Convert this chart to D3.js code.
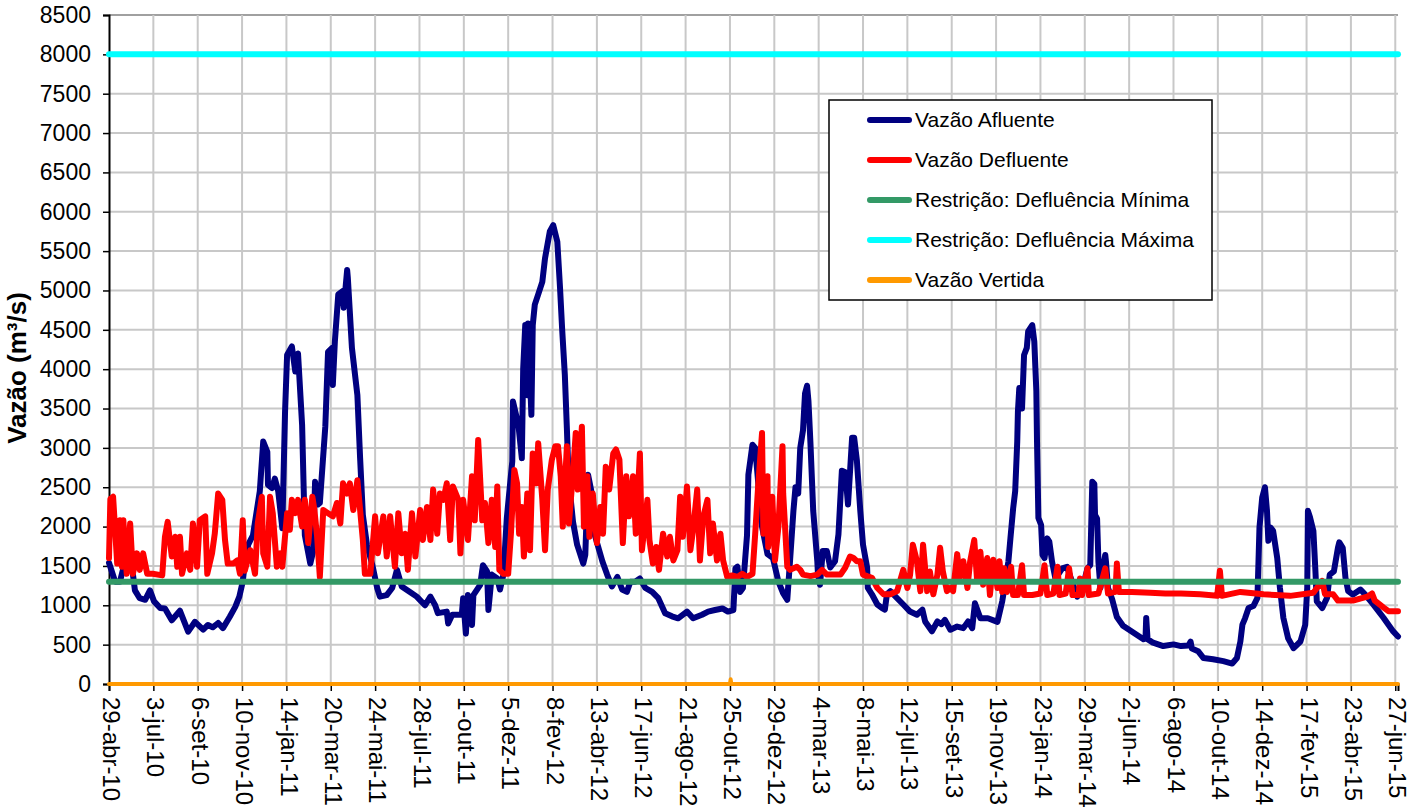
<!DOCTYPE html>
<html>
<head>
<meta charset="utf-8">
<script src="https://cdn.jsdelivr.net/npm/d3@7"></script>
<style>
  body { margin: 0; background: #fff; }
  svg { display: block; font-family: "Liberation Sans", Arial, sans-serif; }
</style>
</head>
<body>
<div id="chart"></div>
<script>
// data: [days since 29-abr-10, m3/s]
var inicio = new Date(2010, 3, 29);
var diaFinal = 1889;

var tickLabels = ["29-abr-10", "3-jul-10", "6-set-10", "10-nov-10", "14-jan-11", "20-mar-11",
  "24-mai-11", "28-jul-11", "1-out-11", "5-dez-11", "8-fev-12", "13-abr-12", "17-jun-12",
  "21-ago-12", "25-out-12", "29-dez-12", "4-mar-13", "8-mai-13", "12-jul-13", "15-set-13",
  "19-nov-13", "23-jan-14", "29-mar-14", "2-jun-14", "6-ago-14", "10-out-14", "14-dez-14",
  "17-fev-15", "23-abr-15", "27-jun-15"];
var tickPasso = 65;
var yTicks = [0, 500, 1000, 1500, 2000, 2500, 3000, 3500, 4000, 4500, 5000, 5500, 6000, 6500, 7000, 7500, 8000, 8500];

var afluente = [
  [0,1540],[9,1300],[16,1300],[23,1540],[33,1540],[38,1190],[45,1090],[53,1070],[60,1190],[66,1050],
  [75,965],[82,960],[92,810],[104,930],[116,665],[126,790],[138,690],[145,750],[152,720],[160,775],
  [167,710],[177,855],[185,980],[191,1110],[196,1300],[199,1540],[204,1770],[211,1890],[221,2450],[226,3080],
  [232,2950],[233,2530],[239,2490],[243,2610],[248,2450],[254,1980],[258,3460],[261,4180],[268,4290],[273,3970],
  [277,4200],[283,3290],[287,1890],[295,1530],[299,1680],[302,2570],[306,2280],[309,2300],[317,3270],[321,4220],
  [327,4270],[328,3800],[331,4350],[336,4950],[342,4990],[344,4780],[349,5260],[350,5160],[356,4270],[364,3670],
  [368,2870],[372,2150],[378,1770],[386,1510],[393,1220],[397,1110],[407,1130],[415,1220],[422,1450],[429,1240],
  [441,1170],[451,1110],[463,1000],[471,1110],[478,1000],[482,900],[495,920],[497,770],[503,880],[517,880],
  [519,1090],[523,640],[526,1130],[532,750],[534,1130],[544,1260],[548,1510],[554,1430],[556,940],[561,1390],
  [569,1340],[573,1200],[578,1390],[583,2110],[591,2830],[592,3590],[600,3290],[605,2870],[607,4010],[610,4560],
  [613,3670],[614,4580],[619,3420],[621,4560],[624,4820],[629,4950],[635,5110],[639,5410],[646,5750],[651,5830],
  [657,5620],[661,5030],[664,4520],[668,3930],[671,3250],[673,2740],[676,2400],[680,2060],[686,1770],[695,1530],
  [698,1640],[702,2660],[708,2400],[712,1890],[723,1560],[730,1390],[737,1240],[745,1360],[752,1200],[759,1170],
  [764,1300],[771,1300],[778,1340],[786,1220],[796,1170],[805,1090],[815,900],[825,860],[834,835],[847,920],
  [856,835],[869,880],[878,920],[888,940],[899,960],[907,920],[915,940],[918,1470],[921,1490],[925,1170],
  [929,1220],[935,1890],[937,2660],[943,3040],[947,3000],[950,2700],[957,2000],[965,1650],[973,1600],[981,1300],
  [988,1150],[994,1070],[998,1560],[1003,2200],[1006,2500],[1010,2420],[1013,3000],[1017,3220],[1020,3690],[1023,3790],
  [1025,3600],[1028,3050],[1032,2200],[1038,1560],[1039,1390],[1042,1260],[1046,1690],[1052,1690],[1057,1480],[1064,1560],
  [1069,1900],[1074,2710],[1079,2690],[1083,2280],[1089,3130],[1092,3130],[1096,2840],[1101,2200],[1105,1770],[1111,1480],
  [1112,1220],[1118,1140],[1126,1010],[1133,965],[1137,945],[1140,1140],[1145,1180],[1155,1090],[1164,1010],[1174,920],
  [1184,880],[1192,945],[1196,795],[1206,670],[1214,795],[1220,760],[1225,815],[1233,690],[1243,730],[1252,710],
  [1259,795],[1265,710],[1269,1025],[1277,835],[1288,835],[1302,790],[1309,1050],[1313,1260],[1318,1555],[1321,1850],
  [1325,2230],[1328,2450],[1331,3080],[1332,3460],[1334,3760],[1338,3500],[1341,4180],[1345,4270],[1347,4480],[1353,4560],
  [1356,4350],[1359,3720],[1360,3080],[1362,2110],[1366,2020],[1368,1640],[1371,1600],[1375,1850],[1378,1810],[1382,1555],
  [1387,1340],[1397,1470],[1404,1490],[1412,1280],[1419,1110],[1426,1200],[1434,1470],[1438,1510],[1441,2570],[1444,2540],
  [1445,2150],[1448,2100],[1450,1550],[1453,1220],[1457,1500],[1460,1640],[1461,1560],[1464,1220],[1470,1080],[1477,850],
  [1486,740],[1501,655],[1516,570],[1519,580],[1520,840],[1522,570],[1530,525],[1545,482],[1560,503],[1571,482],
  [1582,490],[1585,538],[1587,450],[1596,417],[1604,330],[1618,315],[1633,290],[1646,260],[1653,331],[1658,540],
  [1661,753],[1665,838],[1670,966],[1677,990],[1683,1094],[1686,1990],[1690,2370],[1694,2500],[1697,2200],[1699,1820],
  [1702,1990],[1706,1945],[1712,1600],[1716,1220],[1721,840],[1728,580],[1736,455],[1746,540],[1753,750],[1756,1220],
  [1757,2200],[1760,2120],[1765,1945],[1768,1430],[1770,1050],[1778,966],[1785,1094],[1789,1390],[1795,1430],[1801,1730],
  [1803,1800],[1808,1730],[1812,1350],[1816,1180],[1823,1136],[1834,1200],[1841,1136],[1853,1008],[1868,838],[1882,668],
  [1889,604]
];

var defluente = [
  [0,1600],[2,2350],[6,2380],[12,1530],[16,2080],[19,1490],[21,2080],[26,1400],[31,2040],[35,1400],
  [41,1660],[45,1450],[50,1660],[56,1400],[64,1400],[78,1380],[82,1870],[86,2060],[92,1620],[97,1870],
  [100,1490],[104,1870],[107,1400],[114,1660],[119,1450],[123,2040],[129,1490],[133,2080],[141,2130],[144,1400],
  [151,1660],[155,1910],[160,2420],[166,2340],[170,1830],[174,1530],[182,1530],[188,1570],[192,1400],[196,2080],
  [199,1440],[207,1700],[214,1400],[218,2040],[224,2380],[226,1660],[232,1490],[236,2380],[240,2170],[246,1490],
  [251,1660],[254,1490],[261,2170],[265,1960],[268,2340],[273,2170],[277,2340],[283,2000],[287,2340],[292,1790],
  [298,2380],[301,2210],[305,1870],[309,1360],[314,2210],[321,2170],[328,2130],[334,2300],[339,2040],[343,2550],
  [349,2420],[353,2550],[358,2210],[364,2590],[368,2210],[372,1830],[375,1400],[383,1400],[390,2130],[394,1660],
  [402,2130],[407,1620],[412,2130],[419,1490],[424,2170],[429,1660],[434,1910],[438,1450],[444,2170],[449,1620],
  [456,2210],[460,1830],[466,2250],[471,1830],[475,2470],[481,1910],[485,2420],[490,2340],[495,2550],[500,1830],
  [504,2510],[512,2340],[515,1660],[519,2340],[526,1830],[532,2640],[536,2080],[541,3100],[547,2080],[551,2300],
  [556,1790],[561,2340],[566,1740],[569,2510],[572,1450],[578,1400],[585,1400],[589,1910],[594,2720],[598,2550],
  [601,1910],[605,2250],[608,1620],[613,2420],[617,1700],[621,2930],[626,2550],[629,3060],[635,2340],[639,1700],
  [643,2470],[649,2850],[654,3020],[658,3020],[662,2640],[665,2000],[671,3020],[674,2040],[680,2680],[684,3190],
  [687,2470],[693,3270],[696,2000],[701,2640],[704,1870],[709,2420],[715,1790],[720,2250],[724,1910],[728,2760],
  [733,2470],[739,2930],[743,2980],[748,2850],[753,1790],[758,2640],[762,2130],[768,2640],[772,1910],[778,2930],
  [781,1700],[789,2340],[792,1830],[797,1530],[802,1740],[806,1450],[812,1910],[818,1620],[822,1870],[827,1570],
  [833,1700],[837,2380],[841,1870],[847,2510],[852,1700],[856,1960],[862,2470],[866,1570],[871,2130],[877,2340],
  [881,1660],[885,2040],[891,1570],[896,1910],[900,1570],[906,1360],[913,1380],[921,1360],[928,1400],[935,1360],
  [943,1400],[947,1910],[951,2470],[957,3190],[959,1910],[965,2640],[966,1740],[972,2380],[976,1570],[981,2000],
  [987,3020],[988,2420],[994,1490],[998,1450],[1008,1490],[1013,1450],[1017,1390],[1028,1370],[1038,1390],[1045,1450],
  [1052,1390],[1061,1390],[1072,1390],[1079,1480],[1086,1620],[1091,1600],[1096,1560],[1101,1560],[1105,1390],[1111,1370],
  [1118,1350],[1126,1220],[1135,1140],[1145,1140],[1155,1180],[1164,1450],[1170,1220],[1174,1390],[1178,1770],[1184,1560],
  [1189,1180],[1193,1770],[1199,1180],[1203,1430],[1208,1140],[1214,1390],[1218,1730],[1222,1430],[1228,1180],[1233,1220],
  [1237,1180],[1243,1650],[1247,1350],[1252,1560],[1258,1220],[1262,1560],[1268,1830],[1272,1340],[1277,1680],[1281,1260],
  [1287,1600],[1291,1130],[1296,1580],[1302,1220],[1305,1560],[1309,1170],[1312,1470],[1316,1170],[1322,1490],[1325,1130],
  [1332,1130],[1338,1510],[1341,1130],[1353,1130],[1365,1150],[1371,1510],[1375,1130],[1384,1150],[1390,1490],[1393,1130],
  [1402,1150],[1407,1470],[1412,1130],[1421,1130],[1423,1340],[1426,1130],[1434,1470],[1436,1130],[1450,1150],[1460,1470],
  [1464,1150],[1475,1170],[1477,1530],[1480,1170],[1499,1170],[1526,1160],[1548,1150],[1571,1150],[1599,1140],[1624,1120],
  [1628,1440],[1631,1120],[1658,1170],[1692,1140],[1731,1120],[1765,1160],[1778,1310],[1782,1140],[1794,1140],[1801,1060],
  [1823,1060],[1844,1110],[1851,1150],[1855,1060],[1868,970],[1875,925],[1889,925]
];

var vertida = [[0,0],[910,0],[911,60],[912,0],[1889,0]];
var defluenciaMinima = 1300;
var defluenciaMaxima = 8000;

var legendItems = [
  { nome: "Vazão Afluente", cor: "#000080" },
  { nome: "Vazão Defluente", cor: "#ff0000" },
  { nome: "Restrição: Defluência Mínima", cor: "#339966" },
  { nome: "Restrição: Defluência Máxima", cor: "#00ffff" },
  { nome: "Vazão Vertida", cor: "#ff9900" }
];

(function () {
  var width = 1425, height = 810;
  var plot = { left: 109, right: 1398, top: 15, bottom: 684 };
  var fonte = "'Liberation Sans', Arial, sans-serif";

  var svg = d3.select("#chart").append("svg")
    .attr("width", width)
    .attr("height", height);

  var dia = function (d) { return d3.timeDay.offset(inicio, d); };

  var x = d3.scaleTime()
    .domain([inicio, dia(diaFinal)])
    .range([plot.left, plot.right]);

  var y = d3.scaleLinear()
    .domain([0, 8500])
    .range([plot.bottom, plot.top]);

  var xTicks = tickLabels.map(function (t, i) { return dia(i * tickPasso); });

  // grid
  svg.append("g").selectAll("line")
    .data(yTicks.filter(function (v) { return v > 0; }))
    .enter().append("line")
    .attr("x1", plot.left).attr("x2", plot.right)
    .attr("y1", function (d) { return y(d); }).attr("y2", function (d) { return y(d); })
    .style("stroke", function (d) { return d === 8500 ? "#a0a0a0" : "#c8c8c8"; })
    .style("stroke-width", 2);

  svg.append("g").selectAll("line")
    .data(xTicks.slice(1))
    .enter().append("line")
    .attr("x1", function (d) { return x(d); }).attr("x2", function (d) { return x(d); })
    .attr("y1", plot.top).attr("y2", plot.bottom)
    .style("stroke", "#c8c8c8").style("stroke-width", 2);

  // y axis
  var yAxis = svg.append("g").attr("transform", "translate(" + plot.left + ",0)")
    .call(d3.axisLeft(y).tickValues(yTicks).tickSize(6).tickPadding(12).tickFormat(d3.format("d")));
  yAxis.select(".domain").style("stroke", "#000").style("stroke-width", 2);
  yAxis.selectAll(".tick line").style("stroke", "#000").style("stroke-width", 1.5);
  yAxis.selectAll("text").style("font-size", "23px").style("fill", "#000").style("font-family", fonte);

  // x axis
  var xAxis = svg.append("g").attr("transform", "translate(0," + plot.bottom + ")")
    .call(d3.axisBottom(x).tickValues(xTicks).tickSize(7).tickFormat(function (d, i) { return tickLabels[i]; }));
  xAxis.select(".domain").style("stroke", "#000").style("stroke-width", 2);
  xAxis.selectAll(".tick line").style("stroke", "#000").style("stroke-width", 1.5);
  xAxis.selectAll("text")
    .style("font-size", "24px").style("fill", "#000").style("font-family", fonte)
    .attr("text-anchor", "start")
    .attr("dy", "0.35em")
    .attr("x", 0)
    .attr("y", 0)
    .attr("transform", "translate(2,13) rotate(90)");

  // y title
  svg.append("text")
    .attr("transform", "translate(26,368) rotate(-90)")
    .attr("text-anchor", "middle")
    .style("font-size", "26px").style("font-weight", "bold")
    .text("Vazão (m³/s)");

  // series
  var linha = d3.line()
    .x(function (d) { return x(dia(d[0])); })
    .y(function (d) { return y(d[1]); });

  function desenha(dados, cor, largura) {
    svg.append("path")
      .datum(dados)
      .attr("d", linha)
      .style("fill", "none")
      .style("stroke", cor)
      .style("stroke-width", largura)
      .style("stroke-linejoin", "round")
      .style("stroke-linecap", "round");
  }

  desenha(afluente, "#000080", 6);
  desenha(defluente, "#ff0000", 6);
  desenha([[0, defluenciaMinima], [diaFinal, defluenciaMinima]], "#339966", 6);
  desenha([[0, defluenciaMaxima], [diaFinal, defluenciaMaxima]], "#00ffff", 6);
  desenha(vertida, "#ff9900", 4);

  // legend
  var legend = svg.append("g").attr("transform", "translate(829,100)");
  legend.append("rect")
    .attr("width", 383).attr("height", 200)
    .style("fill", "#fff").style("stroke", "#000").style("stroke-width", 1.5);

  var item = legend.selectAll("g")
    .data(legendItems)
    .enter().append("g")
    .attr("transform", function (d, i) { return "translate(0," + (20 + i * 40) + ")"; });

  item.append("line")
    .attr("x1", 41).attr("x2", 80)
    .style("stroke", function (d) { return d.cor; })
    .style("stroke-width", 6)
    .style("stroke-linecap", "round");

  item.append("text")
    .attr("x", 86).attr("dy", "0.35em")
    .style("font-size", "21px")
    .text(function (d) { return d.nome; });
})();
</script>
</body>
</html>
